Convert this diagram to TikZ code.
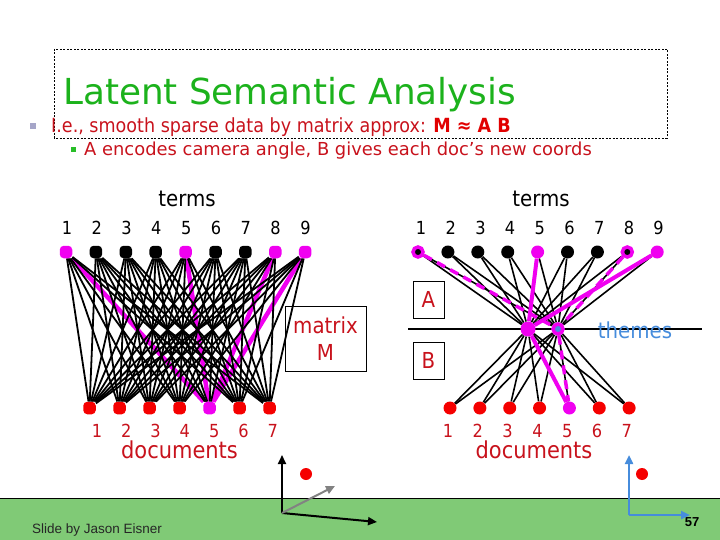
\documentclass[tikz,border=0pt]{standalone}
\usepackage{fontspec}
\setmainfont[FakeStretch=0.9]{DejaVu Sans}
\newfontfamily\widefont{DejaVu Sans}
\newfontfamily\arialfont{Liberation Sans}
\usetikzlibrary{arrows.meta}
\pgfdeclarelayer{edges}
\pgfsetlayers{edges,main}

\definecolor{titlegreen}{RGB}{28,178,28}
\definecolor{textred}{RGB}{200,18,28}
\definecolor{boldred}{RGB}{225,0,0}
\definecolor{dotred}{RGB}{245,0,0}
\definecolor{hilite}{RGB}{240,0,240}
\definecolor{themeblue}{RGB}{70,140,220}
\definecolor{bulletgray}{RGB}{165,165,200}
\definecolor{bulletgreen}{RGB}{40,190,40}
\definecolor{bandgreen}{RGB}{128,202,118}
\definecolor{arrowgray}{RGB}{130,130,130}

\begin{document}
\begin{tikzpicture}[x=1pt, y=-1pt,
  lsq/.style={rectangle, rounded corners=4pt, inner sep=0pt, minimum size=12.5pt},
  termL/.style={lsq, fill=black},
  hitermL/.style={lsq, fill=hilite},
  docL/.style={lsq, fill=dotred},
  hidocL/.style={lsq, fill=hilite},
  rdot/.style={circle, inner sep=0pt, minimum size=13pt},
  termR/.style={rdot, fill=black},
  hitermR/.style={rdot, fill=hilite},
  ringR/.style={circle, inner sep=0pt, minimum size=10pt, fill=black, draw=hilite, line width=3.5pt},
  docR/.style={rdot, fill=dotred},
  hidocR/.style={rdot, fill=hilite},
  num/.style={font=\fontsize{18}{20}\selectfont, inner sep=0pt, anchor=base},
  docnum/.style={num, text=textred},
  big/.style={font=\fontsize{22}{27}\selectfont, inner sep=0pt},
  docword/.style={inner sep=0pt, anchor=base, text=textred, font=\fontsize{23.3}{27}\selectfont},
  lbox/.style={draw, line width=1pt, inner sep=0pt, align=center, text=textred, font=\fontsize{22}{27}\selectfont},
  link/.style={line width=1.8pt},
  linkR/.style={line width=1.6pt},
  hiL/.style={line width=4.5pt, hilite},
  hiR/.style={line width=4pt, hilite},
  hidash/.style={line width=3.5pt, hilite, dash pattern=on 9pt off 6pt},
  axis/.style={line width=2pt, -{Triangle[length=9pt, width=8pt]}},
  pt/.style={circle, fill=dotred, inner sep=0pt, minimum width=10pt, minimum height=12pt}
]
\useasboundingbox (0,0) rectangle (720,540);

% title
\draw[line width=0.6pt, dash pattern=on 2pt off 1.5pt] (54,49) rectangle (667,138);
\node[anchor=base west, inner sep=0pt, text=titlegreen, font=\widefont\fontsize{35.8}{40}\selectfont] (title) at (63,105) {Latent Semantic Analysis};
\node[fill=bulletgray, inner sep=0pt, minimum size=6pt] (blt1) at (33,126) {};
\node[anchor=base west, inner sep=0pt, text=textred, font=\fontsize{19.5}{24}\selectfont] (line1) at (51,133)
  {I.e., smooth sparse data by matrix approx: {\bfseries\color{boldred}M ≈ A B}};
\node[fill=bulletgreen, inner sep=0pt, minimum size=5pt] (blt2) at (73,150) {};
\node[anchor=base west, inner sep=0pt, text=textred, font=\widefont\fontsize{17.9}{22}\selectfont] (line2) at (84,156)
  {A encodes camera angle, B gives each doc’s new coords};

% left: matrix M
\node[big, anchor=base] (termsL) at (187,207) {terms};
\foreach \i/\s in {1/hitermL,2/termL,3/termL,4/termL,5/hitermL,6/termL,7/termL,8/hitermL,9/hitermL}{
  \node[\s] (lt\i) at ({66+29.9*(\i-1)},252) {};
  \node[num] (ltn\i) at ({67+29.8*(\i-1)},235) {\i};
}
\foreach \j/\s in {1/docL,2/docL,3/docL,4/docL,5/hidocL,6/docL,7/docL}{
  \node[\s] (ld\j) at ({89.5+30*(\j-1)},408) {};
  \node[docnum] (ldn\j) at ({97+29.3*(\j-1)},437) {\j};
}
\node[docword] (docsL) at (179.5,458) {documents};
\node[lbox, minimum width=81pt, minimum height=65pt] (mbox) at (325.5,338.5) {matrix\\M};

\begin{pgfonlayer}{edges}
\foreach \i in {1,5,8,9} \draw[hiL] (lt\i) -- (ld5);
\foreach \i in {1,...,9} \foreach \j in {1,2,3,4,6,7} \draw[link] (lt\i) -- (ld\j);
\foreach \i in {2,3,4,6,7} \draw[link] (lt\i) -- (ld5);
\end{pgfonlayer}

% right: M = A B
\node[big, anchor=base] (termsR) at (541,207) {terms};
\foreach \i/\s in {1/ringR,2/termR,3/termR,4/termR,5/hitermR,6/termR,7/termR,8/ringR,9/hitermR}{
  \node[\s] (rt\i) at ({418+29.9*(\i-1)},252) {};
  \node[num] (rtn\i) at ({421+29.7*(\i-1)},235) {\i};
}
\foreach \j/\s in {1/docR,2/docR,3/docR,4/docR,5/hidocR,6/docR,7/docR}{
  \node[\s] (rd\j) at ({450+29.85*(\j-1)},408) {};
  \node[docnum] (rdn\j) at ({448+29.8*(\j-1)},437) {\j};
}
\node[docword] (docsR) at (534,458) {documents};
\node[circle, fill=hilite, inner sep=0pt, minimum size=15pt] (th1) at (528,329) {};
\node[circle, fill=themeblue, draw=hilite, line width=3.5pt, inner sep=0pt, minimum size=10pt] (th2) at (558,329) {};
\node[big, anchor=base, text=themeblue] (themes) at (635,338) {themes};
\node[lbox, minimum width=31pt, minimum height=37pt] (boxA) at (428.5,299.5) {A};
\node[lbox, minimum width=31pt, minimum height=37pt] (boxB) at (428.5,360.5) {B};

\begin{pgfonlayer}{edges}
\draw[line width=1.8pt] (408,329) -- (702,329);
\foreach \i in {1,2,3,4,6,7,8} \draw[linkR] (rt\i) -- (th1);
\foreach \i in {1,...,9} \draw[linkR] (rt\i) -- (th2);
\foreach \j in {1,2,3,4,6,7} \draw[linkR] (th1) -- (rd\j);
\foreach \j in {1,...,7} \draw[linkR] (th2) -- (rd\j);
\draw[hidash] (rt1) -- (th2);
\draw[hidash] (rt8) -- (th2);
\draw[hidash] (th2) -- (rd5);
\draw[hiR] (rt5) -- (th1);
\draw[hiR] (rt9) -- (th1);
\draw[hiR] (th1) -- (rd5);
\end{pgfonlayer}

% footer band and the two little plots
\fill[bandgreen] (0,498) rectangle (720,540);
\draw[line width=0.8pt] (0,498) -- (720,498);
\node[anchor=base west, inner sep=0pt, font=\arialfont\fontsize{13.5}{16}\selectfont, text=black!85] (credit) at (32,533) {Slide by Jason Eisner};
\node[inner sep=0pt, font=\arialfont\bfseries\fontsize{13}{15}\selectfont] (pageno) at (692,522) {57};

\coordinate (orgA) at (282,513);
\coordinate (upA) at (282,455);
\coordinate (rtA) at (377,522);
\coordinate (diagA) at (335,486);
\draw[axis] (orgA) -- (upA);
\draw[axis] (orgA) -- (rtA);
\draw[axis, arrowgray] (orgA) -- (diagA);
\node[pt] (ptA) at (306,474) {};

\coordinate (orgB) at (629,515);
\coordinate (upB) at (629,455);
\coordinate (rtB) at (690,515);
\draw[axis, themeblue, line width=2.5pt] (orgB) -- (upB);
\draw[axis, themeblue, line width=2.5pt] (orgB) -- (rtB);
\node[pt] (ptB) at (642,474) {};
\end{tikzpicture}
\end{document}
